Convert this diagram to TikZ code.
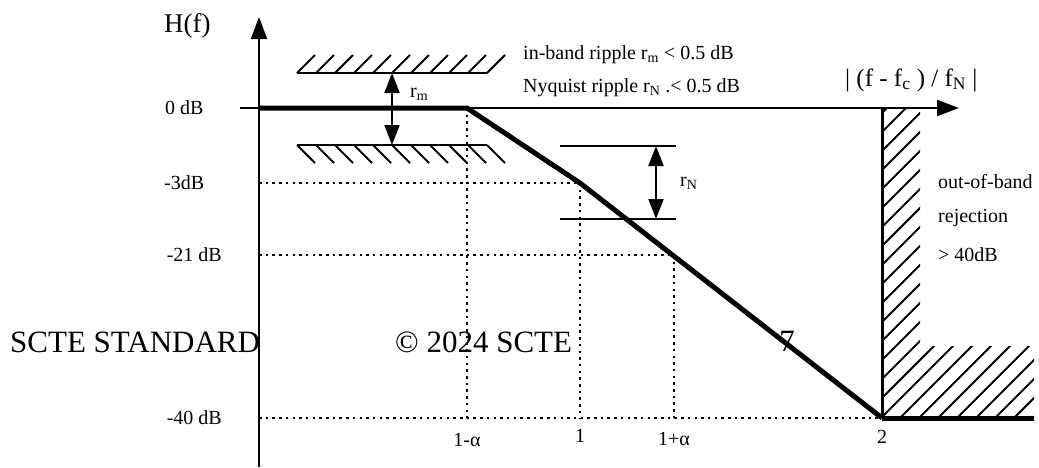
\documentclass[tikz,border=0pt]{standalone}
\usepackage{fontspec}
\setmainfont{Liberation Serif}
\usetikzlibrary{arrows.meta}
\begin{document}
\begin{tikzpicture}[x=1pt,y=-1pt,
  axisline/.style={line width=2pt},
  thickline/.style={line width=5pt},
  dotline/.style={line width=2pt, dash pattern=on 2.5pt off 4.2pt},
  hatchline/.style={line width=2pt},
  bigtip/.style={-{Triangle[length=22pt,width=16pt]}},
  dbltip/.style={{Triangle[length=20pt,width=15pt]}-{Triangle[length=20pt,width=15pt]}},
  lbl/.style={inner sep=0pt, font=\fontsize{20}{23}\selectfont},
  biglbl/.style={inner sep=0pt, font=\fontsize{31}{35}\selectfont}]
\useasboundingbox (0,0) rectangle (1039,467);
% axes
\coordinate (yb) at (259,467);
\coordinate (yt) at (259,17);
\coordinate (xl) at (240,108);
\coordinate (xr) at (959,108);
\draw[axisline,bigtip] (yb) -- (yt);
\draw[axisline,bigtip] (xl) -- (xr);
% curve points
\coordinate (p0) at (259,108);
\coordinate (p1) at (467,108);
\coordinate (p2) at (580,183);
\coordinate (p3) at (882,418);
\coordinate (p4) at (1034,418);
\coordinate (q21) at (674,255);
% dotted guides
\coordinate (a3) at (259,183);
\coordinate (a21) at (259,255);
\coordinate (a40) at (259,418);
\coordinate (b1) at (467,418);
\coordinate (b2) at (580,418);
\coordinate (b3) at (674,418);
\draw[dotline] (a3) -- (p2);
\draw[dotline] (a21) -- (q21);
\draw[dotline] (a40) -- (p3);
\draw[dotline] (p1) -- (b1);
\draw[dotline] (p2) -- (b2);
\draw[dotline] (q21) -- (b3);
% response
\draw[thickline, line join=miter] (p0) -- (p1) -- (p2) -- (p3);
\draw[thickline] (p3) -- (p4);
% stopband hatch
\begin{scope}
  \clip (882,108) rectangle (920,418) (882,346) rectangle (1034,418);
  \foreach \k in {900,919,...,1500} {\draw[hatchline] (\k,0) -- (\k-500,500);}
\end{scope}
\coordinate (sv) at (882,108);
\draw[line width=3pt] (sv) -- (p3);
% in-band ripple bounds
\coordinate (u1) at (297,73);
\coordinate (u2) at (487,73);
\coordinate (l1) at (297,145);
\coordinate (l2) at (487,145);
\draw[hatchline] (u1) -- (u2);
\draw[hatchline] (l1) -- (l2);
\foreach \i in {0,...,10} {
  \draw[hatchline] (297+19*\i,73) -- ++(18,-18);
  \draw[hatchline] (297+19*\i,145) -- ++(18,18);
}
\coordinate (rmt) at (392,73);
\coordinate (rmb) at (392,145);
\draw[hatchline,dbltip] (rmb) -- (rmt);
\node[lbl, anchor=west] (rm) at (410,94) {r\textsubscript{m}};
% Nyquist ripple
\coordinate (n1) at (560,146);
\coordinate (n2) at (676,146);
\coordinate (n3) at (560,219);
\coordinate (n4) at (676,219);
\draw[hatchline] (n1) -- (n2);
\draw[hatchline] (n3) -- (n4);
\coordinate (rnt) at (656,146);
\coordinate (rnb) at (656,219);
\draw[hatchline,dbltip] (rnb) -- (rnt);
\node[lbl, anchor=west] (rn) at (680,183) {r\textsubscript{N}};
% labels
\node[inner sep=0pt, anchor=west, font=\fontsize{27}{30}\selectfont] (hf) at (164,26) {H(f)};
\node[lbl, anchor=west] (l0) at (165,108) {0 dB};
\node[lbl, anchor=west] (l3) at (164,183) {-3dB};
\node[lbl, anchor=east] (l21) at (222,255) {-21 dB};
\node[lbl, anchor=east] (l40) at (222,418) {-40 dB};
\node[lbl] (t1) at (467,440) {1-α};
\node[lbl] (t2) at (580,436) {1};
\node[lbl] (t3) at (674,439) {1+α};
\node[lbl] (t4) at (882,437) {2};
\node[lbl, anchor=west] (ib) at (523,55) {in-band ripple r\textsubscript{m} < 0.5 dB};
\node[lbl, anchor=west] (nq) at (523,88) {Nyquist ripple r\textsubscript{N} .< 0.5 dB};
\node[inner sep=0pt, anchor=west, font=\fontsize{25}{28}\selectfont] (xlab) at (845,80) {| (f - f\textsubscript{c} ) / f\textsubscript{N} |};
\node[lbl, anchor=west] (ob1) at (938,182) {out-of-band};
\node[lbl, anchor=west] (ob2) at (938,218) {rejection};
\node[lbl, anchor=west] (ob3) at (938,255) {> 40dB};
\node[biglbl, anchor=west] (wm1) at (10,342) {SCTE STANDARD};
\node[biglbl, anchor=west] (wm2) at (395,342) {© 2024 SCTE};
\node[biglbl] (wm3) at (787,341) {7};
\end{tikzpicture}
\end{document}
